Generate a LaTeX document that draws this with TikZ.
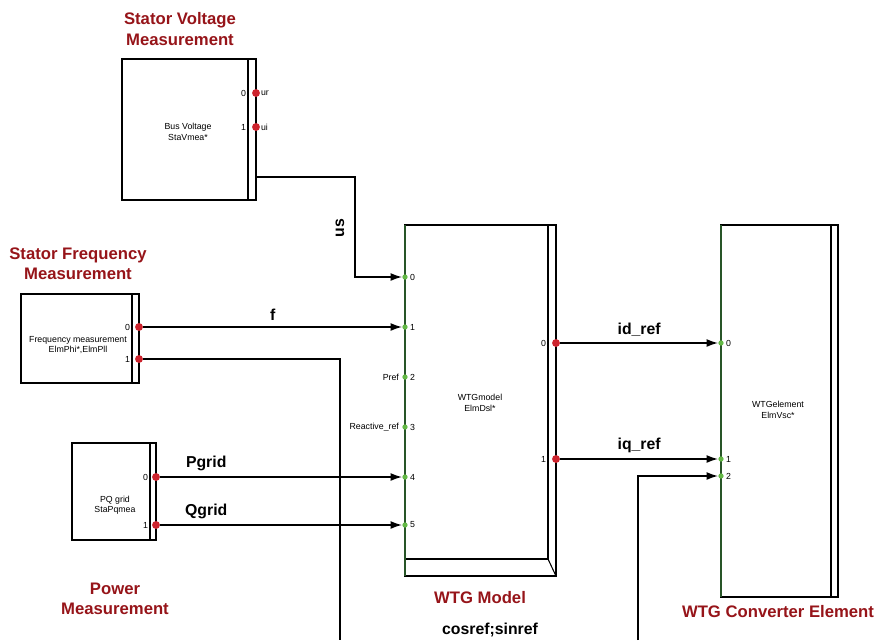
\documentclass[tikz,border=0pt]{standalone}
\usepackage{fontspec}
\setmainfont{Liberation Sans}
\usetikzlibrary{arrows.meta}

\definecolor{titlered}{RGB}{150,20,25}
\definecolor{portred}{RGB}{205,35,45}
\definecolor{portgreen}{RGB}{100,185,70}
\definecolor{edgegreen}{RGB}{40,85,40}

\begin{document}
\begin{tikzpicture}[x=0.02cm, y=-0.02cm, >={Latex[length=6.5pt,width=4.5pt]},
  title/.style={font=\fontsize{9.5}{11.5}\selectfont\bfseries, text=titlered, align=center},
  sig/.style={font=\fontsize{9}{10}\selectfont\bfseries},
  blocktext/.style={font=\fontsize{5}{6}\selectfont, align=center, inner sep=0pt},
  pnum/.style={font=\fontsize{5}{5}\selectfont, inner sep=1pt},
  outdot/.style={circle, fill=portred, inner sep=0pt, minimum size=4.5pt},
  indot/.style={circle, fill=portgreen, inner sep=0pt, minimum size=3pt},
  wire/.style={line width=0.8pt},
  frame/.style={line width=0.6pt}]

\useasboundingbox (0,0) rectangle (877,640);

% stator voltage measurement block
\draw[frame] (122,59) rectangle (256,200);
\draw[frame] (248,59) -- (248,200);
\node[blocktext] (bvtext) at (188,132) {Bus Voltage\\StaVmea*};
\node[outdot] (bvo0) at (256,93) {};
\node[outdot] (bvo1) at (256,127) {};
\coordinate (bvo2) at (256,177);
\node[pnum, anchor=east] at (248,93) {0};
\node[pnum, anchor=west] at (259,93) {ur};
\node[pnum, anchor=east] at (248,127) {1};
\node[pnum, anchor=west] at (259,127) {ui};
\node[title] (bvtitle) at (180,29) {Stator Voltage\\Measurement};

% stator frequency measurement block
\draw[frame] (21,294) rectangle (139,383);
\draw[frame] (132,294) -- (132,383);
\node[blocktext] (fqtext) at (78,345) {Frequency measurement\\ElmPhi*,ElmPll};
\node[outdot] (fqo0) at (139,327) {};
\node[outdot] (fqo1) at (139,359) {};
\node[pnum, anchor=east] at (132,327) {0};
\node[pnum, anchor=east] at (132,359) {1};
\node[title] (fqtitle) at (78,264) {Stator Frequency\\Measurement};

% power measurement block
\draw[frame] (72,443) rectangle (156,540);
\draw[frame] (150,443) -- (150,540);
\node[blocktext] (pqtext) at (115,505) {PQ grid\\StaPqmea};
\node[outdot] (pqo0) at (156,477) {};
\node[outdot] (pqo1) at (156,525) {};
\node[pnum, anchor=east] at (150,477) {0};
\node[pnum, anchor=east] at (150,525) {1};
\node[title] (pqtitle) at (115,599) {Power\\Measurement};

% WTG model block
\draw[frame] (405,225) rectangle (556,576);
\draw[frame] (548,225) -- (548,559) -- (405,559);
\draw[frame] (548,559) -- (556,576);
\draw[edgegreen, line width=1pt] (405,225) -- (405,576);
\node[blocktext] (wtext) at (480,403) {WTGmodel\\ElmDsl*};
\node[indot] (wi0) at (405,277) {};
\node[indot] (wi1) at (405,327) {};
\node[indot] (wi2) at (405,377) {};
\node[indot] (wi3) at (405,427) {};
\node[indot] (wi4) at (405,477) {};
\node[indot] (wi5) at (405,525) {};
\node[pnum, anchor=west] at (408,277) {0};
\node[pnum, anchor=west] at (408,327) {1};
\node[pnum, anchor=west] at (408,377) {2};
\node[pnum, anchor=west] at (408,427) {3};
\node[pnum, anchor=west] at (408,477) {4};
\node[pnum, anchor=west] at (408,525) {5};
\node[pnum, anchor=east] at (401,377) {Pref};
\node[pnum, anchor=east] at (401,427) {Reactive\_ref};
\node[outdot] (wo0) at (556,343) {};
\node[outdot] (wo1) at (556,459) {};
\node[pnum, anchor=east] at (548,343) {0};
\node[pnum, anchor=east] at (548,459) {1};
\node[title] (wtitle) at (480,598) {WTG Model};

% WTG converter element block
\draw[frame] (721,225) rectangle (838,597);
\draw[frame] (831,225) -- (831,597);
\draw[edgegreen, line width=1pt] (721,225) -- (721,597);
\node[blocktext] (ctext) at (778,410) {WTGelement\\ElmVsc*};
\node[indot] (ci0) at (721,343) {};
\node[indot] (ci1) at (721,459) {};
\node[indot] (ci2) at (721,476) {};
\node[pnum, anchor=west] at (724,343) {0};
\node[pnum, anchor=west] at (724,459) {1};
\node[pnum, anchor=west] at (724,476) {2};
\node[title] (ctitle) at (778,612) {WTG Converter Element};

% signals
\draw[wire,->] (bvo2) -- ++(99,0) |- (wi0);
\node[sig, rotate=90] (us) at (340,228) {us};
\draw[wire,->] (fqo0) -- (wi1) node[midway, above, sig] {f};
\draw[wire,->] (pqo0) -- (wi4) node[pos=0.19, above, sig] {Pgrid};
\draw[wire,->] (pqo1) -- (wi5) node[pos=0.19, above, sig] {Qgrid};
\draw[wire,->] (wo0) -- (ci0) node[midway, above, sig] {id\_ref};
\draw[wire,->] (wo1) -- (ci1) node[midway, above, sig] {iq\_ref};

% cosref;sinref loop, leaves the picture at the bottom
\coordinate (cosA) at (340,640);
\coordinate (cosB) at (638,640);
\draw[wire] (fqo1) -| (cosA);
\draw[wire,->] (cosB) |- (ci2);
\node[sig] (cos) at (490,630) {cosref;sinref};

\end{tikzpicture}
\end{document}
